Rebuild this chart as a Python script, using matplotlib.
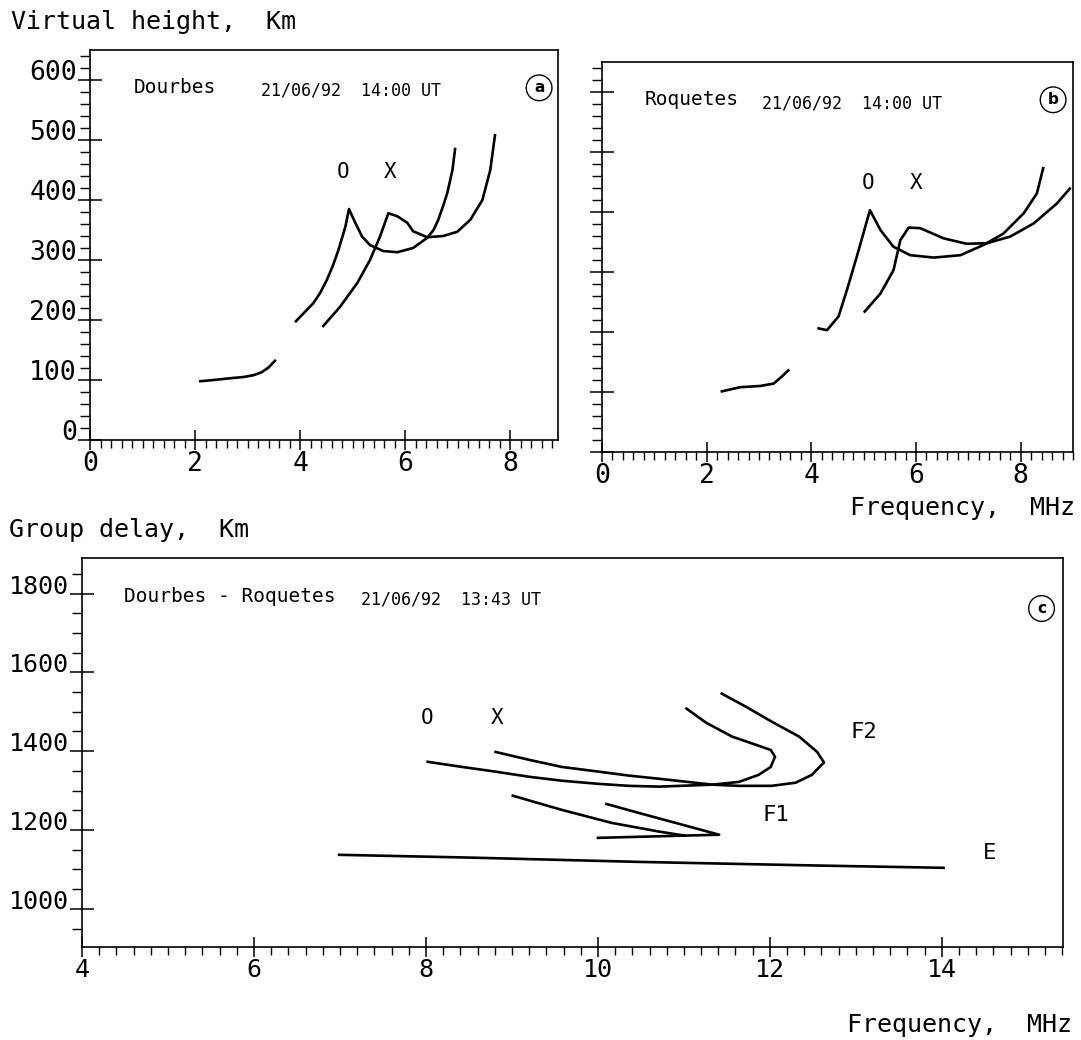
import matplotlib.pyplot as plt
from matplotlib.ticker import MultipleLocator

plt.rcParams['font.family'] = ['DejaVu Sans Mono', 'DejaVu Sans']

# ---- panel (a): Dourbes ionogram, 21/06/92 14:00 UT ----
a_e_freq = [2.10, 2.35, 2.67, 2.92, 3.11, 3.27, 3.40, 3.52]
a_e_height = [98, 100, 103, 105, 108, 113, 121, 132]
a_o_freq = [3.92, 4.25, 4.38, 4.51, 4.63, 4.73, 4.86, 4.93, 5.05, 5.18, 5.33,
            5.58, 5.85, 6.15, 6.42, 6.54, 6.63, 6.73, 6.80, 6.90, 6.95]
a_o_height = [198, 228, 245, 267, 292, 317, 355, 385, 362, 339, 325,
              315, 313, 320, 337, 350, 367, 392, 411, 450, 485]
a_x_freq = [4.44, 4.76, 5.09, 5.33, 5.52, 5.68, 5.85, 6.04, 6.15, 6.42, 6.72,
            6.99, 7.24, 7.47, 7.62, 7.71]
a_x_height = [190, 222, 262, 300, 339, 378, 373, 362, 348, 338, 340,
              347, 367, 400, 450, 508]

# ---- panel (b): Roquetes ionogram, 21/06/92 14:00 UT ----
b_e_freq = [2.29, 2.64, 3.02, 3.28, 3.44, 3.56]
b_e_height = [101, 108, 110, 114, 126, 136]
b_o_freq = [4.14, 4.30, 4.52, 4.68, 4.87, 5.12, 5.32, 5.57, 5.89, 6.34, 6.85,
            7.29, 7.67, 8.06, 8.31, 8.43]
b_o_height = [206, 203, 226, 270, 326, 403, 370, 342, 328, 324, 328,
              345, 364, 398, 431, 473]
b_x_freq = [5.02, 5.32, 5.57, 5.70, 5.86, 6.08, 6.53, 6.97, 7.36, 7.80, 8.25,
            8.69, 8.94]
b_x_height = [234, 264, 303, 353, 374, 373, 356, 347, 348, 359, 381,
              414, 439]

# ---- panel (c): oblique sounding Dourbes - Roquetes, 13:43 UT ----
c_e_freq = [6.99, 8.5, 10.48, 12.5, 14.02]
c_e_delay = [1137, 1130, 1119, 1110, 1104]
c_f1o_freq = [9.01, 9.58, 10.16, 10.71, 11.0]
c_f1o_delay = [1287, 1251, 1218, 1196, 1186]
c_f1x_freq = [10.10, 10.48, 11.41, 10.70, 10.0]
c_f1x_delay = [1266, 1243, 1188, 1184, 1180]
c_f2o_freq = [8.02, 8.42, 8.81, 9.20, 9.58, 10.01, 10.36, 10.71, 11.33, 11.64,
              11.87, 12.01, 12.06, 12.01, 11.84, 11.56, 11.26, 11.03]
c_f2o_delay = [1373, 1360, 1348, 1335, 1325, 1317, 1312, 1310, 1315, 1322,
               1340, 1360, 1386, 1403, 1416, 1437, 1472, 1508]
c_f2x_freq = [8.81, 9.20, 9.58, 10.01, 10.36, 10.71, 11.33, 11.64, 12.02, 12.30,
              12.49, 12.60, 12.63, 12.55, 12.34, 12.02, 11.72, 11.44]
c_f2x_delay = [1398, 1378, 1360, 1348, 1338, 1330, 1315, 1312, 1312, 1320,
               1340, 1365, 1371, 1398, 1437, 1475, 1513, 1546]

LW = 1.9
SPINE = 1.2


def style_axes(ax, xmajor, xminor, ymajor, yminor, ylabels=True, fs=19):
    for s in ax.spines.values():
        s.set_linewidth(SPINE)
    ax.xaxis.set_major_locator(MultipleLocator(xmajor))
    ax.xaxis.set_minor_locator(MultipleLocator(xminor))
    ax.yaxis.set_major_locator(MultipleLocator(ymajor))
    ax.yaxis.set_minor_locator(MultipleLocator(yminor))
    ax.tick_params(axis='y', which='major', direction='inout', length=17, width=1.1,
                   labelsize=fs, pad=1, labelleft=ylabels)
    ax.tick_params(axis='y', which='minor', direction='out', length=7, width=1.0)
    ax.tick_params(axis='x', which='major', direction='inout', length=14, width=1.1,
                   labelsize=fs, pad=1)
    ax.tick_params(axis='x', which='minor', direction='out', length=6, width=1.0)
    for lbl in ax.get_yticklabels():
        lbl.set_verticalalignment('baseline')


def circled(ax, x, y, s):
    ax.text(x, y, s, ha='center', va='center', fontsize=11, family='DejaVu Sans',
            fontweight='bold',
            bbox=dict(boxstyle='circle,pad=0.35', fc='white', ec='black', lw=1.0))


fig = plt.figure(figsize=(10.81, 10.40), dpi=100)

# panel a
ax_a = fig.add_axes([0.0833, 0.5769, 0.4329, 0.375])
ax_a.plot(a_e_freq, a_e_height, color='black', lw=LW)
ax_a.plot(a_o_freq, a_o_height, color='black', lw=LW)
ax_a.plot(a_x_freq, a_x_height, color='black', lw=LW)
ax_a.set_xlim(0, 8.91)
ax_a.set_ylim(0, 650)
style_axes(ax_a, 2, 0.2, 100, 20)
ax_a.text(0.84, 587, 'Dourbes', fontsize=14, va='center')
ax_a.text(3.25, 583, '21/06/92  14:00 UT', fontsize=12, va='center')
circled(ax_a, 8.55, 587, 'a')
ax_a.text(4.82, 447, 'O', fontsize=15, ha='center', va='center')
ax_a.text(5.71, 447, 'X', fontsize=15, ha='center', va='center')

# panel b
ax_b = fig.add_axes([0.5569, 0.5654, 0.4357, 0.375])
ax_b.plot(b_e_freq, b_e_height, color='black', lw=LW)
ax_b.plot(b_o_freq, b_o_height, color='black', lw=LW)
ax_b.plot(b_x_freq, b_x_height, color='black', lw=LW)
ax_b.set_xlim(0, 9.0)
ax_b.set_ylim(0, 650)
style_axes(ax_b, 2, 0.2, 100, 20, ylabels=False)
ax_b.text(0.82, 587, 'Roquetes', fontsize=14, va='center')
ax_b.text(3.05, 580, '21/06/92  14:00 UT', fontsize=12, va='center')
circled(ax_b, 8.62, 587, 'b')
ax_b.text(5.09, 448, 'O', fontsize=15, ha='center', va='center')
ax_b.text(6.0, 448, 'X', fontsize=15, ha='center', va='center')

# panel c
ax_c = fig.add_axes([0.0759, 0.0894, 0.9075, 0.374])
ax_c.plot(c_e_freq, c_e_delay, color='black', lw=LW)
ax_c.plot(c_f1o_freq, c_f1o_delay, color='black', lw=LW)
ax_c.plot(c_f1x_freq, c_f1x_delay, color='black', lw=LW)
ax_c.plot(c_f2o_freq, c_f2o_delay, color='black', lw=LW)
ax_c.plot(c_f2x_freq, c_f2x_delay, color='black', lw=LW)
ax_c.set_xlim(4, 15.41)
ax_c.set_ylim(903, 1890)
style_axes(ax_c, 2, 0.2, 200, 50, fs=18)
ax_c.text(4.49, 1792, 'Dourbes - Roquetes', fontsize=14, va='center')
ax_c.text(7.25, 1785, '21/06/92  13:43 UT', fontsize=12, va='center')
circled(ax_c, 15.16, 1762, 'c')
ax_c.text(8.01, 1485, 'O', fontsize=15, ha='center', va='center')
ax_c.text(8.83, 1485, 'X', fontsize=15, ha='center', va='center')
ax_c.text(13.09, 1449, 'F2', fontsize=16, ha='center', va='center')
ax_c.text(12.07, 1239, 'F1', fontsize=16, ha='center', va='center')
ax_c.text(14.55, 1142, 'E', fontsize=16, ha='center', va='center')

# axis titles, placed like the original plotter output
fig.text(0.010, 0.979, 'Virtual height,  Km', fontsize=18, va='center')
fig.text(0.9945, 0.5115, 'Frequency,  MHz', fontsize=18, va='center', ha='right')
fig.text(0.008, 0.490, 'Group delay,  Km', fontsize=18, va='center')
fig.text(0.992, 0.0144, 'Frequency,  MHz', fontsize=18, va='center', ha='right')

fig.savefig('out.png', dpi=100, facecolor='white')
